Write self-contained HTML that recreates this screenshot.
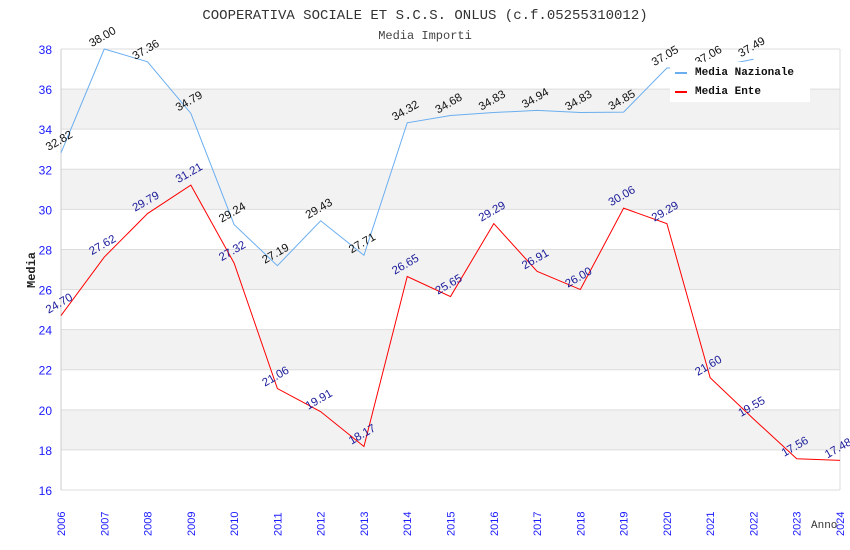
<!DOCTYPE html>
<html><head><meta charset="utf-8"><style>
body{margin:0;background:#fff;}
svg{display:block;font-family:"Liberation Sans",sans-serif;}
.mono{font-family:"Liberation Mono","DejaVu Sans Mono",monospace;}
</style></head><body>
<svg id="chart" width="850" height="550">
<text class="mono" x="425" y="19" text-anchor="middle" font-size="14" fill="#333">COOPERATIVA SOCIALE ET S.C.S. ONLUS (c.f.05255310012)</text>
<text class="mono" x="425" y="39" text-anchor="middle" font-size="12" fill="#444">Media Importi</text>
<g id="grid"></g><g id="series"></g><g id="axes"></g>
<text class="mono" x="0" y="0" transform="translate(35,270) rotate(-90)" text-anchor="middle" font-size="12" font-weight="bold" fill="#222">Media</text>
<text class="mono" x="811" y="528" font-size="11" fill="#333">Anno</text>
<g>
<rect x="670" y="62" width="140" height="40" fill="#fff"/>
<line x1="675" y1="73" x2="687" y2="73" stroke="#6aaef0" stroke-width="2"/>
<text class="mono" x="695" y="75" font-size="11" font-weight="bold" fill="#111">Media Nazionale</text>
<line x1="675" y1="92" x2="687" y2="92" stroke="red" stroke-width="2"/>
<text class="mono" x="695" y="94" font-size="11" font-weight="bold" fill="#111">Media Ente</text>
</g>
</svg>
<script>
const years=[2006,2007,2008,2009,2010,2011,2012,2013,2014,2015,2016,2017,2018,2019,2020,2021,2022,2023,2024];
const nazionale=[32.82,38.00,37.36,34.79,29.24,27.19,29.43,27.71,34.32,34.68,34.83,34.94,34.83,34.85,37.05,37.06,37.49];
const ente=[24.70,27.62,29.79,31.21,27.32,21.06,19.91,18.17,26.65,25.65,29.29,26.91,26.00,30.06,29.29,21.60,19.55,17.56,17.48];
const yTicks=[16,18,20,22,24,26,28,30,32,34,36,38];
const NS='http://www.w3.org/2000/svg';
const L=61,R=840,T=49,B=490,yMin=16,yMax=38;
const x=i=>L+(R-L)*i/(years.length-1);
const y=v=>B-(v-yMin)/(yMax-yMin)*(B-T);
function mk(tag,attrs,parent){const e=document.createElementNS(NS,tag);for(const k in attrs)e.setAttribute(k,attrs[k]);parent.appendChild(e);return e;}
const grid=document.getElementById('grid'),axes=document.getElementById('axes'),ser=document.getElementById('series');
for(let i=0;i<yTicks.length-1;i++){
  if(i%2===1){const r=mk('rect',{x:L,y:y(yTicks[i+1]),width:R-L,height:y(yTicks[i])-y(yTicks[i+1]),fill:'#f2f2f2'},grid);
  
  }
}
yTicks.forEach(t=>{
  const l=mk('line',{x1:L,x2:R,y1:y(t),y2:y(t),stroke:'#ddd'},grid);
  
  
  const tx=mk('text',{x:L-9,y:y(t)+5,'text-anchor':'end','font-size':12,fill:'#1a1aff'},axes);
  tx.textContent=t;
  
  
});
mk('line',{x1:L,x2:L,y1:T,y2:B,stroke:'#ccc'},grid);
mk('line',{x1:R,x2:R,y1:T,y2:B,stroke:'#ddd'},grid);
years.forEach((yr,i)=>{
  const tx=mk('text',{x:0,y:0,transform:`translate(${x(i)+4},${536}) rotate(-90)`,'font-size':11,fill:'#1a1aff'},axes);
  tx.textContent=yr;
  
  
});
function draw(vals,color,lblColor,name){
  const p=mk('polyline',{points:vals.map((v,i)=>x(i)+','+y(v)).join(' '),fill:'none',stroke:color,'stroke-width':1},ser);
  
  
  vals.forEach((v,i)=>{
    const t=mk('text',{x:0,y:0,transform:`translate(${x(i)},${y(v)-9}) rotate(-30)`,'text-anchor':'middle','font-size':11.5,fill:lblColor},ser);
    t.textContent=v.toFixed(2);
    
    
  });
}
draw(nazionale,'#6aaef0','#111','nazionale');
draw(ente,'red','#1a1a9a','ente');
</script>
</body></html>
